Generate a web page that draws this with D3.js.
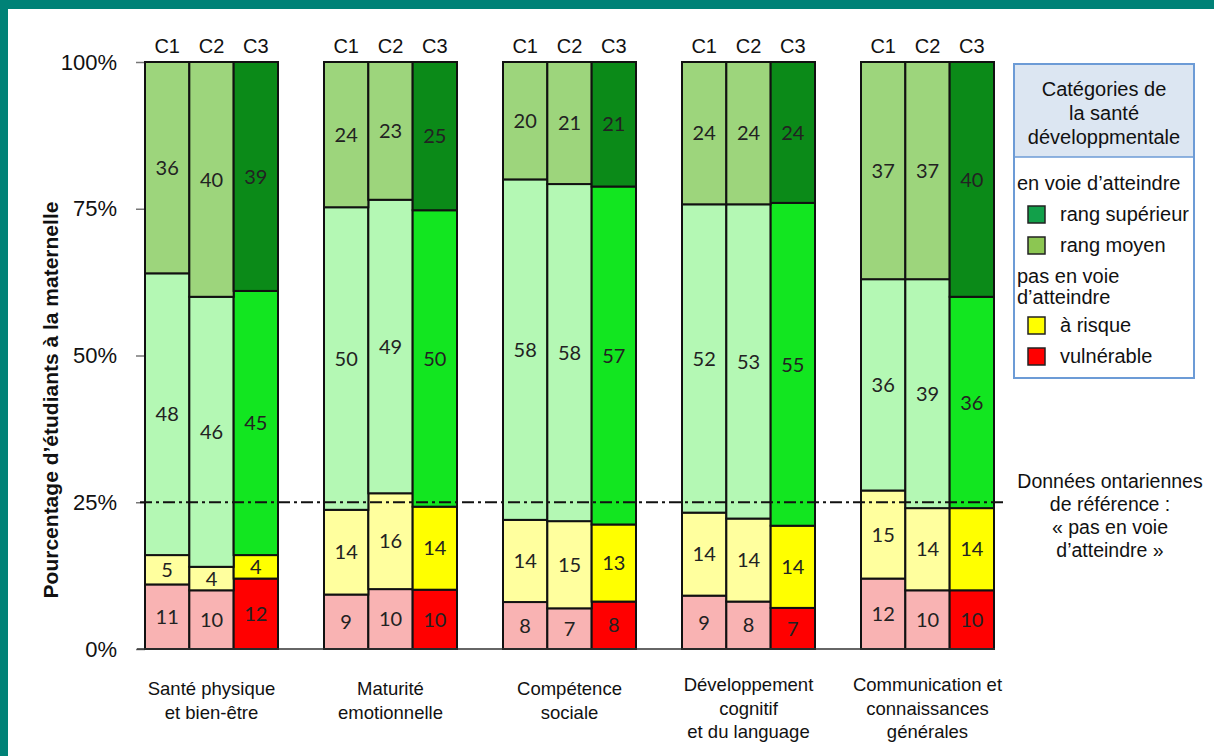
<!DOCTYPE html>
<html>
<head>
<meta charset="utf-8">
<script src="https://cdn.jsdelivr.net/npm/d3@7"></script>
<style>
  html, body { margin: 0; padding: 0; background: #fff; }
  svg { display: block; }
</style>
</head>
<body>
<svg id="chart" width="1214" height="756"></svg>
<script>
// Domains of developmental health and the three cohorts compared in each
const domains = [
  ["Santé physique", "et bien-être"],
  ["Maturité", "emotionnelle"],
  ["Compétence", "sociale"],
  ["Développement", "cognitif", "et du language"],
  ["Communication et", "connaissances", "générales"]
];
const cohorts = ["C1", "C2", "C3"];

// Percent of kindergarten students per category (one row per domain: C1, C2, C3)
const vulnerable = [[11, 10, 12], [9, 10, 10], [8, 7, 8], [9, 8, 7], [12, 10, 10]];
const atRisk     = [[5, 4, 4], [14, 16, 14], [14, 15, 13], [14, 14, 14], [15, 14, 14]];
const onTrack    = [[48, 46, 45], [50, 49, 50], [58, 58, 57], [52, 53, 55], [36, 39, 36]];
const topRange   = [[36, 40, 39], [24, 23, 25], [20, 21, 21], [24, 24, 24], [37, 37, 40]];

const yTicks = [0, 0.25, 0.5, 0.75, 1];
const ontarioReference = 0.25;

const keys = ["vulnerable", "atRisk", "onTrack", "topRange"];
const sources = { vulnerable, atRisk, onTrack, topRange };

// Light tints for C1/C2, saturated colours for C3
const palette = {
  light: { vulnerable: "#f9b3b3", atRisk: "#ffff9e", onTrack: "#b4f8b4", topRange: "#9dd57c" },
  strong: { vulnerable: "#ff0000", atRisk: "#ffff00", onTrack: "#12e620", topRange: "#0b8a18" }
};

const legendItems = [
  { type: "head", text: "en voie d\u2019atteindre", y: 183 },
  { type: "item", text: "rang supérieur", color: "#12a04a", y: 214 },
  { type: "item", text: "rang moyen", color: "#8cc652", y: 245 },
  { type: "head", text: "pas en voie", y: 276 },
  { type: "head", text: "d\u2019atteindre", y: 297 },
  { type: "item", text: "à risque", color: "#ffff00", y: 325 },
  { type: "item", text: "vulnérable", color: "#ff0000", y: 356 }
];

// Flattened rows for the stack
const rows = [];
domains.forEach((d, i) => {
  cohorts.forEach((c, j) => {
    const r = { domain: i, cohort: c };
    keys.forEach(k => { r[k] = sources[k][i][j]; });
    rows.push(r);
  });
});

const svg = d3.select("#chart");
const arial = "'Liberation Sans', Arial, sans-serif";
const numFont = "Lato, 'Open Sans', sans-serif";

// Page frame
svg.append("rect").attr("x", 0).attr("y", 0).attr("width", 1214).attr("height", 9).attr("fill", "#008277");
svg.append("rect").attr("x", 0).attr("y", 0).attr("width", 8).attr("height", 756).attr("fill", "#008277");

// Scales
const x = d3.scaleBand().domain(d3.range(domains.length)).range([145, 994]).paddingInner(0.257).paddingOuter(0);
const xc = d3.scaleBand().domain(cohorts).range([0, x.bandwidth()]).padding(0);
const y = d3.scaleLinear().domain([0, 1]).range([649, 62]);

const stack = d3.stack().keys(keys).offset(d3.stackOffsetExpand);
const series = stack(rows);

// Y axis (ticks only)
const yAxis = svg.append("g")
  .attr("transform", "translate(145,0)")
  .call(d3.axisLeft(y).tickValues(yTicks).tickFormat(d3.format(".0%")).tickSize(9).tickPadding(19));
yAxis.select(".domain").remove();
yAxis.selectAll(".tick line").attr("stroke", "#777").attr("stroke-width", 1.5);
yAxis.selectAll(".tick text").attr("font-family", arial).attr("font-size", 22).attr("fill", "#111");

// Y axis title
svg.append("text")
  .attr("transform", "translate(58,400) rotate(-90)")
  .attr("text-anchor", "middle")
  .attr("font-family", arial)
  .attr("font-weight", "bold")
  .attr("font-size", 21)
  .attr("fill", "#111")
  .text("Pourcentage d\u2019étudiants à la maternelle");

// Stacked bars
const barX = d => x(d.data.domain) + xc(d.data.cohort);
const layers = svg.append("g").selectAll("g").data(series).join("g");
layers.selectAll("rect")
  .data(s => s.map(d => Object.assign(d, { key: s.key })))
  .join("rect")
  .attr("x", d => barX(d))
  .attr("y", d => y(d[1]))
  .attr("width", xc.bandwidth())
  .attr("height", d => y(d[0]) - y(d[1]))
  .attr("fill", d => (d.data.cohort === "C3" ? palette.strong : palette.light)[d.key])
  .attr("stroke", "#111")
  .attr("stroke-width", 2);

// Value labels centred in each segment
layers.selectAll("text")
  .data(s => s)
  .join("text")
  .attr("x", d => barX(d) + xc.bandwidth() / 2)
  .attr("y", d => y((d[0] + d[1]) / 2))
  .attr("dy", "0.36em")
  .attr("text-anchor", "middle")
  .attr("font-family", numFont)
  .attr("font-size", 20)
  .attr("fill", "#222")
  .text(d => d.data[d.key]);

// Baseline
svg.append("line")
  .attr("x1", 137).attr("x2", 995)
  .attr("y1", y(0)).attr("y2", y(0))
  .attr("stroke", "#333").attr("stroke-width", 1.5);

// Ontario reference line
svg.append("line")
  .attr("x1", 140).attr("x2", 1006)
  .attr("y1", y(ontarioReference)).attr("y2", y(ontarioReference))
  .attr("stroke", "#111").attr("stroke-width", 1.8)
  .attr("stroke-dasharray", "12,4,3,4");

// Cohort labels above bars
const cohortLabels = svg.append("g");
domains.forEach((d, i) => {
  cohorts.forEach(c => {
    cohortLabels.append("text")
      .attr("x", x(i) + xc(c) + xc.bandwidth() / 2)
      .attr("y", 46)
      .attr("dy", "0.35em")
      .attr("text-anchor", "middle")
      .attr("font-family", arial)
      .attr("font-size", 20)
      .attr("fill", "#111")
      .text(c);
  });
});

// Domain labels under each group
const lineStep = 23.5;
domains.forEach((lines, i) => {
  const startY = lines.length === 3 ? 685 : 689;
  const t = svg.append("text")
    .attr("text-anchor", "middle")
    .attr("font-family", arial)
    .attr("font-size", 18.5)
    .attr("fill", "#111");
  lines.forEach((l, k) => {
    t.append("tspan")
      .attr("x", x(i) + x.bandwidth() / 2)
      .attr("y", startY + k * lineStep)
      .attr("dy", "0.35em")
      .text(l);
  });
});

// Reference annotation
const note = ["Données ontariennes", "de référence :", "« pas en voie", "d\u2019atteindre »"];
const nt = svg.append("text").attr("text-anchor", "middle").attr("font-family", arial).attr("font-size", 19.5).attr("fill", "#111");
note.forEach((l, k) => {
  nt.append("tspan").attr("x", 1110).attr("y", 481 + k * 23).attr("dy", "0.35em").text(l);
});

// Legend
const lg = svg.append("g");
const lx = 1014, ly = 64, lw = 180, lhgt = 314, headH = 93;
lg.append("rect").attr("x", lx).attr("y", ly).attr("width", lw).attr("height", headH).attr("fill", "#dce6f2");
lg.append("rect").attr("x", lx).attr("y", ly).attr("width", lw).attr("height", lhgt)
  .attr("fill", "none").attr("stroke", "#6c9bd6").attr("stroke-width", 2);
lg.append("line").attr("x1", lx).attr("x2", lx + lw).attr("y1", ly + headH).attr("y2", ly + headH)
  .attr("stroke", "#6c9bd6").attr("stroke-width", 1.5);
const ht = lg.append("text").attr("text-anchor", "middle").attr("font-family", arial).attr("font-size", 20).attr("fill", "#111");
["Catégories de", "la santé", "développmentale"].forEach((l, k) => {
  ht.append("tspan").attr("x", lx + lw / 2).attr("y", 89 + k * 24).attr("dy", "0.35em").text(l);
});
legendItems.forEach(it => {
  if (it.type === "head") {
    lg.append("text").attr("x", 1017).attr("y", it.y).attr("dy", "0.35em")
      .attr("font-family", arial).attr("font-size", 20).attr("fill", "#111").text(it.text);
  } else {
    lg.append("rect").attr("x", 1028).attr("y", it.y - 8).attr("width", 17).attr("height", 17)
      .attr("fill", it.color).attr("stroke", "#222").attr("stroke-width", 1.5);
    lg.append("text").attr("x", 1060).attr("y", it.y).attr("dy", "0.35em")
      .attr("font-family", arial).attr("font-size", 20).attr("fill", "#111").text(it.text);
  }
});
</script>
</body>
</html>
